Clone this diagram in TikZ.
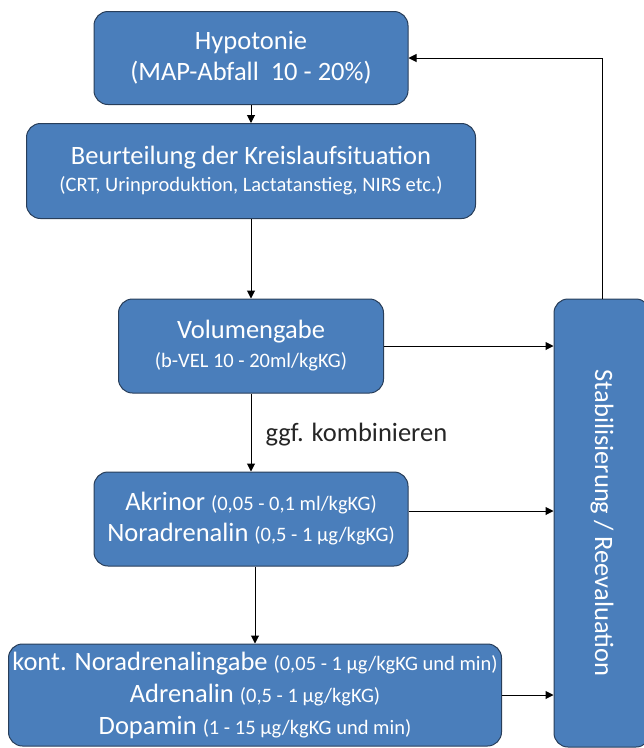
\documentclass[tikz,border=0pt]{standalone}
\usepackage{fontspec}
\setmainfont{Carlito}
\usetikzlibrary{arrows.meta}
\definecolor{boxblue}{RGB}{74,126,187}
\definecolor{boxline}{RGB}{40,62,90}
\newcommand{\bigtxt}{\fontsize{26.5}{31}\selectfont}
\newcommand{\smtxt}{\fontsize{20.5}{31}\selectfont}
\begin{document}
\begin{tikzpicture}[x=1pt,y=-1pt,
  box/.style={draw=boxline,line width=1pt,fill=boxblue,rounded corners=14pt,text=white,align=center,inner sep=0pt,font=\bigtxt},
  link/.style={line width=1pt,-{Triangle[length=8pt,width=8pt]}}]
\useasboundingbox (0,0) rectangle (644,748);
\node[box,minimum width=314pt,minimum height=93pt] (hypo) at (251,58) {Hypotonie\\(MAP-Abfall\ \ 10 - 20\%)};
\node[box,minimum width=449pt,minimum height=95pt] (beurt) at (251,171) {Beurteilung der Kreislaufsituation\\[-4pt]{\smtxt(CRT, Urinproduktion, Lactatanstieg, NIRS etc.)}};
\node[box,minimum width=265pt,minimum height=94pt] (vol) at (251,346) {Volumengabe\\[-2pt]{\smtxt(b-VEL 10 - 20ml/kgKG)}};
\node[box,minimum width=314pt,minimum height=94pt] (akr) at (251,519) {Akrinor {\smtxt(0,05 - 0,1 ml/kgKG)}\\Noradrenalin {\smtxt(0,5 - 1 µg/kgKG)}};
\node[box,minimum width=493pt,minimum height=102pt,font=\fontsize{26.5}{32}\selectfont] (kont) at (255,695) {kont. Noradrenalingabe {\smtxt(0,05 - 1 µg/kgKG und min)}\\Adrenalin {\smtxt(0,5 - 1 µg/kgKG)}\\Dopamin {\smtxt(1 - 15 µg/kgKG und min)}};
\node[box,minimum width=448pt,minimum height=96pt,rotate=-90] (stab) at (602,523) {Stabilisierung / Reevaluation};
\node[anchor=west,font=\bigtxt,text=black!85] (komb) at (262,435) {ggf. kombinieren};
\draw[link] (hypo) -- (beurt);
\draw[link] (beurt) -- (vol);
\draw[link] (vol) -- (akr);
\draw[link] (akr.south -| kont) -- (kont);
\draw[link] (vol.east) -- (vol.east -| stab.south);
\draw[link] ([yshift=8pt]akr.east) -- ([yshift=8pt]akr.east -| stab.south);
\draw[link] (kont.east) -- (kont.east -| stab.south);
\draw[link] (stab.west) |- (hypo.east);
\end{tikzpicture}
\end{document}
